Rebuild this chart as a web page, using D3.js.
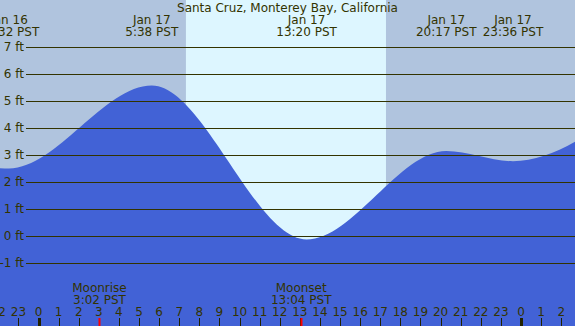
<!DOCTYPE html>
<html>
<head>
<meta charset="utf-8">
<script src="https://cdn.jsdelivr.net/npm/d3@7"></script>
<style>
  body { margin: 0; }
  svg { display: block; font-family: "DejaVu Sans", sans-serif; }
</style>
</head>
<body>
<div id="chart"></div>
<script>

var title = "Santa Cruz, Monterey Bay, California";

// tide extremes (first and last lie outside the picture)
var tideTimes = ["2025-01-16T16:20", "2025-01-16T22:32", "2025-01-17T05:38", "2025-01-17T13:20",
                 "2025-01-17T20:17", "2025-01-17T23:36", "2025-01-18T05:40"];
var tideHeights = [3.6, 2.5, 5.57, -0.13, 3.15, 2.77, 5.0];

var sunTimes = ["2025-01-17T07:20", "2025-01-17T17:17"];

var moonNames = ["Moonrise", "Moonset"];
var moonTimes = ["2025-01-17T03:02", "2025-01-17T13:04"];

var feetTicks = [-1, 0, 1, 2, 3, 4, 5, 6, 7];

var width = 575,
    height = 326;

var parse = d3.utcParse("%Y-%m-%dT%H:%M");
var fmtDay = d3.utcFormat("%b %-d"),
    fmtClock = d3.utcFormat("%-H:%M");

var tide = tideTimes.map(function(t, i) {
    return {t: parse(t), h: tideHeights[i]};
});

var x = d3.scaleUtc()
    .domain([parse("2025-01-17T00:00"), parse("2025-01-18T00:00")])
    .range([38.5, 521]);

var y = d3.scaleLinear()
    .domain([0, 7])
    .range([236, 47]);

var svg = d3.select("#chart")
    .append("svg")
        .attr("width", width)
        .attr("height", height);

// night background, then daylight band
svg.append("rect")
    .attr("width", width)
    .attr("height", height)
    .attr("fill", "#b0c4de");

svg.append("rect")
    .attr("x", x(parse(sunTimes[0])))
    .attr("width", x(parse(sunTimes[1])) - x(parse(sunTimes[0])))
    .attr("height", height)
    .attr("fill", "#ddf6ff");

var area = d3.area()
    .x(function(d) { return x(d.t); })
    .y0(height)
    .y1(function(d) { return y(d.h); })
    .curve(d3.curveMonotoneX);

svg.append("path")
    .datum(tide)
    .attr("d", area)
    .attr("fill", "#4262d6");

// grid lines in feet
svg.selectAll(".grid")
    .data(feetTicks)
    .enter().append("line")
    .attr("x1", 26)
    .attr("x2", width)
    .attr("y1", function(d) { return Math.round(y(d)) + 0.5; })
    .attr("y2", function(d) { return Math.round(y(d)) + 0.5; })
    .attr("stroke", "#333300")
    .attr("stroke-width", 1);

svg.selectAll(".ylab")
    .data(feetTicks)
    .enter().append("text")
    .attr("x", 24)
    .attr("y", function(d) { return y(d) + 4; })
    .attr("text-anchor", "end")
    .attr("font-size", 12)
    .attr("fill", "#333300")
    .text(function(d) { return d + " ft"; });

svg.append("text")
    .attr("x", width / 2)
    .attr("y", 12)
    .attr("text-anchor", "middle")
    .attr("font-size", 12)
    .attr("fill", "#333300")
    .text(title);

// labels for the highs and lows in view
var shown = tide.filter(function(d) {
    return x(d.t) > -30 && x(d.t) < width + 30;
});

var ext = svg.selectAll(".ext")
    .data(shown)
    .enter().append("text")
    .attr("text-anchor", "middle")
    .attr("font-size", 12)
    .attr("fill", "#333300");

ext.append("tspan")
    .attr("x", function(d) { return x(d.t); })
    .attr("y", 24)
    .text(function(d) { return fmtDay(d.t); });

ext.append("tspan")
    .attr("x", function(d) { return x(d.t); })
    .attr("y", 36)
    .text(function(d) { return fmtClock(d.t) + " PST"; });

// hour ticks along the bottom
var hours = d3.utcHour.range(x.invert(-10), x.invert(width + 10));

svg.selectAll(".hlab")
    .data(hours)
    .enter().append("text")
    .attr("x", function(d) { return x(d); })
    .attr("y", 316)
    .attr("text-anchor", "middle")
    .attr("font-size", 12)
    .attr("fill", "#333300")
    .text(function(d) { return d.getUTCHours(); });

svg.selectAll(".htick")
    .data(hours)
    .enter().append("line")
    .attr("x1", function(d) { return Math.round(x(d)) + 0.5; })
    .attr("x2", function(d) { return Math.round(x(d)) + 0.5; })
    .attr("y1", 318)
    .attr("y2", height)
    .attr("stroke", "#222200")
    .attr("stroke-width", function(d) { return d.getUTCHours() === 0 ? 3 : 1; });

// moon rise / set
var moon = moonTimes.map(function(t, i) {
    return {t: parse(t), name: moonNames[i]};
});

var ml = svg.selectAll(".moon")
    .data(moon)
    .enter().append("text")
    .attr("text-anchor", "middle")
    .attr("font-size", 12)
    .attr("fill", "#333300");

ml.append("tspan")
    .attr("x", function(d) { return x(d.t); })
    .attr("y", 292)
    .text(function(d) { return d.name; });

ml.append("tspan")
    .attr("x", function(d) { return x(d.t); })
    .attr("y", 304)
    .text(function(d) { return fmtClock(d.t) + " PST"; });

svg.selectAll(".mtick")
    .data(moon)
    .enter().append("line")
    .attr("x1", function(d) { return Math.round(x(d.t)) + 0.5; })
    .attr("x2", function(d) { return Math.round(x(d.t)) + 0.5; })
    .attr("y1", 318)
    .attr("y2", height)
    .attr("stroke", "red")
    .attr("stroke-width", 2);

</script>
</body>
</html>
